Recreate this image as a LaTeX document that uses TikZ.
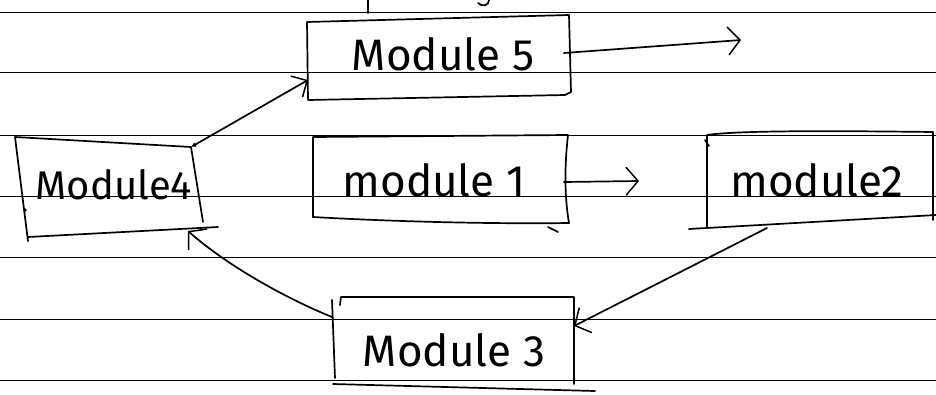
\documentclass[tikz,border=0pt]{standalone}
\usepackage{fontspec}
\setmainfont{Fira Sans}
\usetikzlibrary{arrows.meta}
\begin{document}
\begin{tikzpicture}[x=1pt,y=-1pt,
  pen/.style={line width=1.7pt, line cap=round, line join=round},
  rule/.style={line width=0.9pt},
  label/.style={font=\fontsize{44}{44}\selectfont, inner sep=0pt, anchor=base},
  barb/.style={-{Straight Barb[length=12pt,width=28pt,line width=1.5pt]}},
  flow/.style={pen, barb},
]
\useasboundingbox (0,0) rectangle (936,394);
\fill[white] (0,0) rectangle (936,394);

% ruled paper
\foreach \y in {12.7,72.7,135,196.7,257.7,319.3,380}
  \draw[rule] (0,\y) -- (936,\y);

% bits of the line above
\draw[pen] (368,0) -- (368,13);
\draw[pen] (489,0) .. controls (489,6) and (482,7) .. (478,3);

% ---- Module 5
\coordinate (m5tl) at (307,22);
\coordinate (m5tr) at (569,15);
\coordinate (m5br) at (571,92);
\coordinate (m5bl) at (308,100);
\draw[pen] (m5bl) -- (m5tl) -- (m5tr) -- (m5br) -- (565,95) -- (m5bl);
\node[label] (m5) at (443,70) {Module 5};
\coordinate (m5out) at (564,53);
\coordinate (m5end) at (741,40);
\coordinate (m5in) at (308,80);

% ---- Module 4
\coordinate (m4tl) at (15,137);
\coordinate (m4tr) at (191,147);
\coordinate (m4r) at (203,222);
\coordinate (m4bl) at (28,237);
\coordinate (m4br) at (218,227);
\draw[pen] (28,241) -- (m4tl) -- (m4tr) -- (m4r);
\draw[pen] (m4bl) -- (m4br);
\fill (25,210) circle (1.8pt);
\node[label, font=\fontsize{40}{40}\selectfont] (m4) at (114,199) {Module4};
\coordinate (m4in) at (188,231);

% ---- Module 1
\coordinate (m1tl) at (313,137);
\coordinate (m1tr) at (568,135);
\coordinate (m1br) at (569,223);
\coordinate (m1bl) at (313,217);
\draw[pen] (m1bl) -- (m1tl) -- (m1tr) .. controls (564,170) and (565,200) .. (m1br);
\draw[pen] (m1bl) .. controls (400,222) and (500,224) .. (m1br);
\draw[pen] (548,227) -- (558,232);
\node[label] (m1) at (434,196) {module 1};
\coordinate (m1out) at (564,182);
\coordinate (m1end) at (639,181);

% ---- Module 2
\coordinate (m2tl) at (707,135);
\coordinate (m2tr) at (933,132);
\coordinate (m2br) at (936,215);
\coordinate (m2bl) at (689,229);
\draw[pen] (707,228) -- (m2tl) .. controls (740,130) and (850,131) .. (m2tr) -- (933,220);
\draw[pen] (m2bl) -- (760,225) -- (m2br);
\draw[pen] (705,140) -- (709,146);
\node[label] (m2) at (817,196) {module2};
\coordinate (m2out) at (767,228);

% ---- Module 3
\coordinate (m3tl) at (341,297);
\coordinate (m3tr) at (574,297);
\coordinate (m3br) at (574,384);
\coordinate (m3bl) at (335,378);
\draw[pen] (340,305) -- (m3tl) -- (m3tr) -- (m3br);
\draw[pen] (332,300) -- (m3bl);
\draw[pen] (333,384) -- (595,391);
\node[label] (m3) at (454,366) {Module 3};
\coordinate (m3in) at (574,326);
\coordinate (m3out) at (332,317);

% ---- connectors
\draw[flow] (m5out) -- (m5end);
\draw[pen, {Latex[length=5pt,width=5pt]}-{Straight Barb[length=12pt,width=24pt,line width=1.5pt]}] (m4tr) -- (m5in);
\draw[flow] (m1out) -- (m1end);
\draw[flow] (m2out) -- (m3in);
\draw[flow] (m3out) .. controls (290,300) and (230,268) .. (m4in);
\end{tikzpicture}
\end{document}
